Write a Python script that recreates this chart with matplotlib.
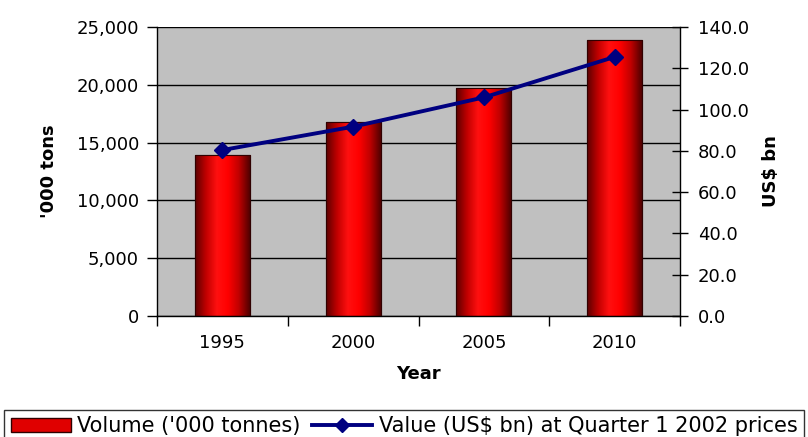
import matplotlib
matplotlib.use("Agg")
import matplotlib.pyplot as plt
import numpy as np
from matplotlib.colors import LinearSegmentedColormap
from matplotlib.patches import Rectangle
from matplotlib.lines import Line2D

plt.rcParams['font.family'] = ['DejaVu Sans']

years = ["1995", "2000", "2005", "2010"]
volume = [13900, 16800, 19700, 23850]
value = [80.4, 91.7, 105.9, 125.5]
left_ticks = [0, 5000, 10000, 15000, 20000, 25000]
right_ticks = [0, 20, 40, 60, 80, 100, 120, 140]

fig = plt.figure(figsize=(8.08, 4.37), dpi=100)
ax = fig.add_axes([157/808, 1-316/437, (680-157)/808, (316-27)/437])
ax.set_facecolor('#c0c0c0')

x = np.arange(len(years))
bars = ax.bar(x, volume, width=0.42, color='#ff0000', edgecolor='#400000', linewidth=0.8, zorder=2)

cmap = LinearSegmentedColormap.from_list('cyl', ['#5a0000', '#c00000', '#ff1010', '#ff0000', '#c00000', '#500000'])
grad = np.linspace(0, 1, 256).reshape(1, -1)
for b in bars:
    bx, by = b.get_x(), b.get_y()
    w, h = b.get_width(), b.get_height()
    im = ax.imshow(grad, cmap=cmap, aspect='auto', extent=[bx, bx + w, by, by + h], zorder=2.5, interpolation='bicubic')
    im.set_clip_path(b)
    ax.add_patch(Rectangle((bx, by), w, h, fill=False, edgecolor='#300000', linewidth=0.8, zorder=3))

ax.set_xlim(-0.5, len(years) - 0.5)
ax.set_ylim(0, 25000)
ax.set_yticks(left_ticks)
ax.set_yticklabels([f"{t:,}" for t in left_ticks], fontsize=13)
ax.yaxis.grid(True, color='black', linewidth=1.0, zorder=1)
ax.set_axisbelow(True)
ax.set_xticks(x)
ax.set_xticklabels(years, fontsize=13)
ax.tick_params(axis='x', which='major', length=0, pad=13)
ax.set_xticks(np.arange(-0.5, len(years)), minor=True)
ax.tick_params(axis='x', which='minor', length=7, direction='out', width=1)
ax.tick_params(axis='y', length=7, direction='out', width=1, pad=6)
for s in ['top', 'right']:
    ax.spines[s].set_visible(False)
ax.spines['left'].set_linewidth(1)
ax.spines['bottom'].set_linewidth(1)
ax.set_xlabel('Year', fontsize=13, fontweight='bold', labelpad=9)
ax.set_ylabel("'000 tons", fontsize=13, fontweight='bold', labelpad=13)

ax2 = ax.twinx()
ax2.plot(x, value, color='#000080', linewidth=2.8, marker='D', markersize=8, zorder=5)
ax2.set_ylim(0, 140)
ax2.set_yticks(right_ticks)
ax2.set_yticklabels([f"{t:.1f}" for t in right_ticks], fontsize=13)
ax2.tick_params(axis='y', length=12, direction='inout', width=1, pad=7)
for s in ['top', 'left', 'bottom']:
    ax2.spines[s].set_visible(False)
ax2.spines['right'].set_linewidth(1)
ax2.set_ylabel("US$ bn", fontsize=13, fontweight='bold', labelpad=9)

handles = [Rectangle((0, 0), 1, 1, facecolor='#e00000', edgecolor='#300000'),
           Line2D([], [], color='#000080', linewidth=2.8, marker='D', markersize=7)]
labels = ["Volume ('000 tonnes)", "Value (US$ bn) at Quarter 1 2002 prices"]
leg = fig.legend(handles, labels, loc='upper center', bbox_to_anchor=(0.5, 1 - 410/437), ncol=2,
                 fontsize=15, frameon=True, fancybox=False, edgecolor='black',
                 handlelength=2.9, handleheight=0.65, columnspacing=0.55, handletextpad=0.3,
                 borderpad=0.3, borderaxespad=0)
leg.get_frame().set_linewidth(1)

fig.savefig('out.png', dpi=100)
